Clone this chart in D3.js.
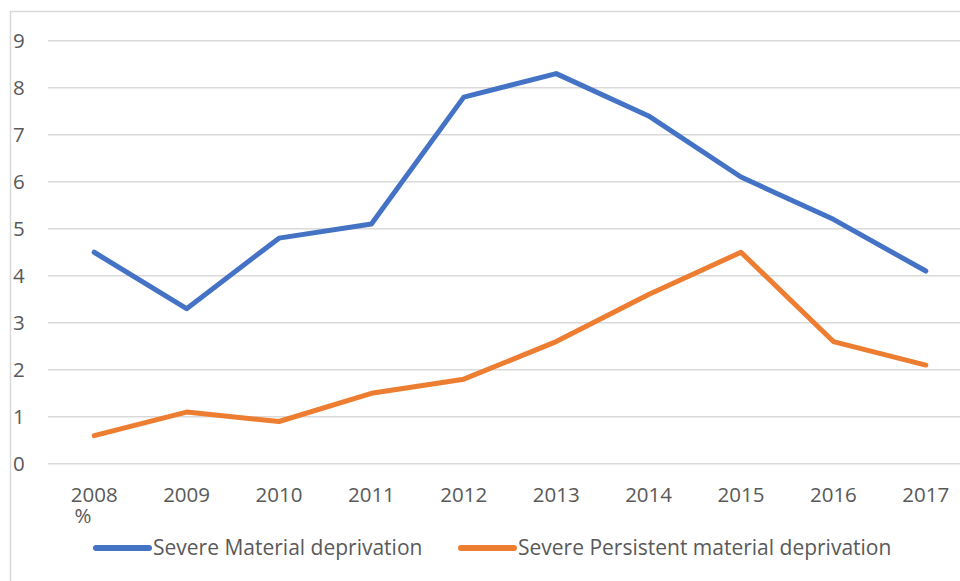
<!DOCTYPE html>
<html>
<head>
<meta charset="utf-8">
<script src="https://cdn.jsdelivr.net/npm/d3@7"></script>
<style>
  body { margin: 0; background: #fff; }
  text { font-family: "Open Sans", sans-serif; fill: #595959; }
</style>
</head>
<body>
<svg></svg>
<script>
var width = 960;
var height = 581;

// data
var years = ["2008","2009","2010","2011","2012","2013","2014","2015","2016","2017"];
var severe = [4.5, 3.3, 4.8, 5.1, 7.8, 8.3, 7.4, 6.1, 5.2, 4.1];
var persistent = [0.6, 1.1, 0.9, 1.5, 1.8, 2.6, 3.6, 4.5, 2.6, 2.1];
var yTicks = [0,1,2,3,4,5,6,7,8,9];
var seriesNames = ["Severe Material deprivation", "Severe Persistent material deprivation"];
var seriesColors = ["#4472c4", "#ed7d31"];

var svg = d3.select("svg")
    .attr("width", width)
    .attr("height", height);

// chart border
svg.append("path")
    .attr("d", "M10.5," + height + "V11.5H" + width)
    .attr("fill", "none")
    .attr("stroke", "#d9d9d9")
    .attr("stroke-width", 1.5);

var x = d3.scaleBand()
    .domain(years)
    .range([48, 48 + 10 * 92.4]);

var y = d3.scaleLinear()
    .domain([0, 9])
    .range([463.8, 40.7]);

// gridlines
svg.append("g")
  .selectAll("line")
  .data(yTicks)
  .enter().append("line")
    .attr("x1", 48)
    .attr("x2", width)
    .attr("y1", function(d) { return y(d); })
    .attr("y2", function(d) { return y(d); })
    .attr("stroke", "#d9d9d9")
    .attr("stroke-width", 1.5);

// y labels
svg.append("g")
  .selectAll("text")
  .data(yTicks)
  .enter().append("text")
    .attr("x", 13)
    .attr("y", function(d) { return y(d); })
    .attr("dy", "0.35em")
    .style("font-size", "20.5px")
    .text(function(d) { return d; });

// x labels
svg.append("g")
  .selectAll("text")
  .data(years)
  .enter().append("text")
    .attr("x", function(d) { return x(d) + x.bandwidth() / 2; })
    .attr("y", 495)
    .attr("dy", "0.35em")
    .attr("text-anchor", "middle")
    .style("font-size", "20.5px")
    .text(function(d) { return d; });

svg.append("text")
    .attr("x", 83)
    .attr("y", 516)
    .attr("dy", "0.35em")
    .attr("text-anchor", "middle")
    .style("font-size", "20.5px")
    .text("%");

var line = d3.line()
    .x(function(d, i) { return x(years[i]) + x.bandwidth() / 2; })
    .y(function(d) { return y(d); });

[severe, persistent].forEach(function(s, i) {
  svg.append("path")
      .datum(s)
      .attr("d", line)
      .attr("fill", "none")
      .attr("stroke", seriesColors[i])
      .attr("stroke-width", 5)
      .attr("stroke-linejoin", "round")
      .attr("stroke-linecap", "round");
});

// legend
var legendX = [96, 461];
seriesNames.forEach(function(n, i) {
  var lg = svg.append("g").attr("transform", "translate(" + legendX[i] + ",548)");
  lg.append("line")
      .attr("x1", 0).attr("x2", 53)
      .attr("stroke", seriesColors[i])
      .attr("stroke-width", 6)
      .attr("stroke-linecap", "round");
  lg.append("text")
      .attr("x", 57)
      .attr("dy", "0.35em")
      .style("font-size", "21px")
      .text(n);
});
</script>
</body>
</html>
